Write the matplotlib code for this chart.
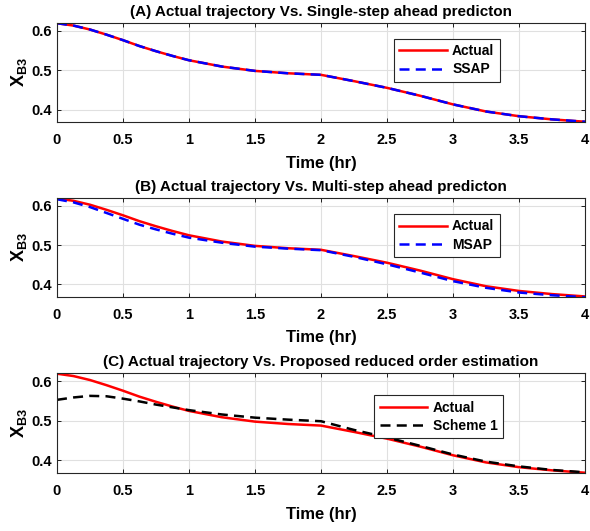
import numpy as np
import matplotlib
matplotlib.use('Agg')
import matplotlib.pyplot as plt

# valores (tempo em horas)
t = [0, 0.125, 0.25, 0.375, 0.5, 0.625, 0.75, 0.875, 1.0, 1.25, 1.5, 1.75, 2.0, 2.25, 2.5, 2.75, 3.0, 3.25, 3.5, 3.75, 4.0]
actual = [0.619, 0.613, 0.603, 0.590, 0.576, 0.561, 0.548, 0.536, 0.525, 0.509, 0.498, 0.492, 0.488, 0.472, 0.455, 0.435, 0.413, 0.395, 0.383, 0.375, 0.369]
ssap = [0.619, 0.613, 0.603, 0.590, 0.576, 0.561, 0.548, 0.536, 0.525, 0.509, 0.498, 0.492, 0.488, 0.472, 0.455, 0.435, 0.413, 0.395, 0.383, 0.375, 0.369]
msap = [0.617, 0.609, 0.597, 0.582, 0.567, 0.552, 0.540, 0.529, 0.519, 0.506, 0.496, 0.491, 0.487, 0.470, 0.451, 0.430, 0.408, 0.391, 0.379, 0.372, 0.367]
scheme1 = [0.553, 0.559, 0.563, 0.562, 0.556, 0.549, 0.541, 0.534, 0.527, 0.516, 0.508, 0.503, 0.499, 0.477, 0.458, 0.437, 0.415, 0.397, 0.385, 0.376, 0.370]

titles = ['(A) Actual trajectory Vs. Single-step ahead predicton',
          '(B) Actual trajectory Vs. Multi-step ahead predicton',
          '(C) Actual trajectory Vs. Proposed reduced order estimation']
series = [(ssap, 'SSAP', 'blue'), (msap, 'MSAP', 'blue'), (scheme1, 'Scheme 1', 'black')]
xticks = [0, 0.5, 1, 1.5, 2, 2.5, 3, 3.5, 4]
xticklabels = ['0', '0.5', '1', '1.5', '2', '2.5', '3', '3.5', '4']
yticks = [0.4, 0.5, 0.6]

plt.rcParams['font.family'] = ['Liberation Sans', 'DejaVu Sans']
plt.rcParams['font.weight'] = 'bold'
plt.rcParams['mathtext.fontset'] = 'custom'
plt.rcParams['mathtext.rm'] = 'Liberation Sans'
plt.rcParams['mathtext.bf'] = 'Liberation Sans:bold'

fig = plt.figure(figsize=(5.9, 5.31), dpi=100)

# posicoes [esq, baixo, larg, alt]
boxes = [[0.0966, 0.770, 0.895, 0.187],
         [0.0966, 0.441, 0.895, 0.186],
         [0.0966, 0.109, 0.895, 0.188]]
leg_anchor = [(0.852, 0.91), (0.852, 0.91), (0.858, 0.85)]

for i in range(3):
    ax = fig.add_axes(boxes[i])
    ax.grid(True, color='#e0e0e0', linewidth=0.8)
    ax.set_axisbelow(True)
    ax.plot(t, actual, color='red', linewidth=1.8, label='Actual')
    y, lab, cor = series[i]
    ax.plot(t, y, color=cor, linestyle=(0, (4, 2.5)), linewidth=1.8, label=lab)
    ax.set_xlim(0, 4)
    ax.set_ylim(0.368, 0.62)
    ax.set_xticks(xticks)
    ax.set_xticklabels(xticklabels)
    ax.set_yticks(yticks)
    ax.tick_params(direction='in', labelsize=10.5, length=3, width=0.6, top=True, right=True)
    ax.tick_params(axis='x', pad=8)
    for s in ax.spines.values():
        s.set_linewidth(0.8)
        s.set_color('#262626')
    ax.set_title(titles[i], fontsize=11, fontweight='bold', pad=5)
    ax.set_xlabel('Time (hr)', fontsize=12, fontweight='bold', labelpad=6)
    ax.set_ylabel(r'$\mathbf{X_{B3}}$', fontsize=13, labelpad=2)
    leg = ax.legend(loc='upper right', bbox_to_anchor=leg_anchor[i], fontsize=10,
                    handlelength=3.4, frameon=True, fancybox=False, framealpha=1,
                    edgecolor='#262626', borderpad=0.4, labelspacing=0.3, handletextpad=0.4)
    leg.get_frame().set_linewidth(0.8)

fig.savefig('out.png', dpi=100)
